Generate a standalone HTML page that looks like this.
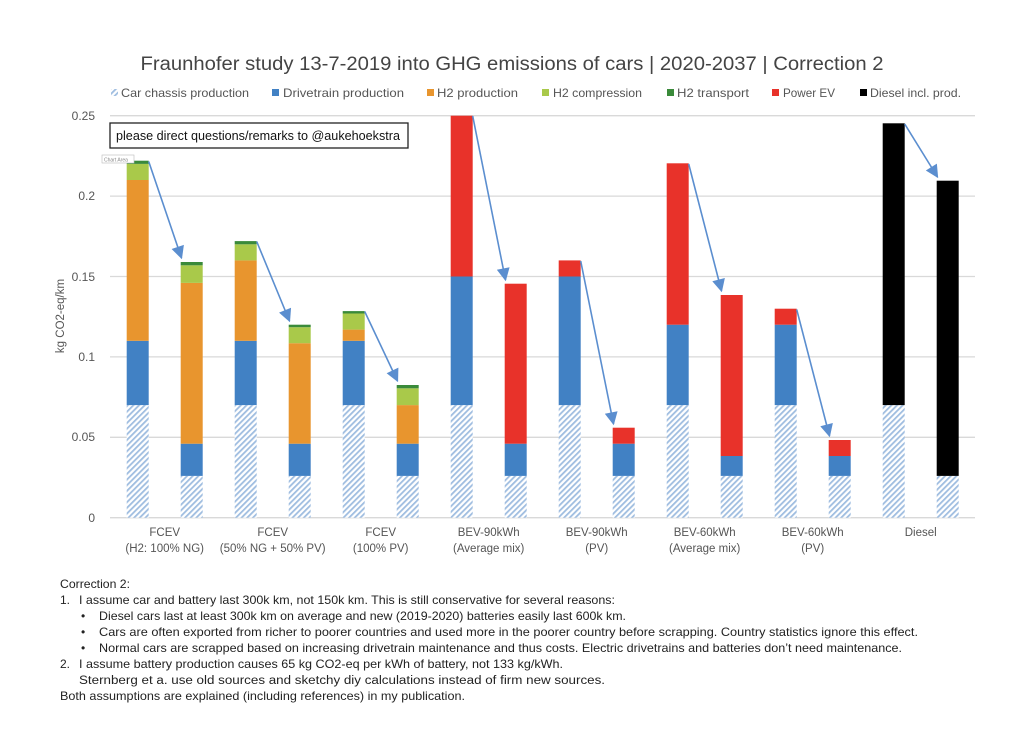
<!DOCTYPE html>
<html><head><meta charset="utf-8"><style>
html,body{margin:0;padding:0;background:#fff;}
svg{display:block;font-family:"Liberation Sans",sans-serif;}
</style></head><body>
<svg width="1024" height="742" viewBox="0 0 1024 742" xmlns="http://www.w3.org/2000/svg">
<defs>
<pattern id="h" patternUnits="userSpaceOnUse" width="4" height="4" patternTransform="rotate(45)">
<rect width="4" height="4" fill="#fff"/><rect width="1.8" height="4" fill="#9fbde0"/>
</pattern>
<marker id="a2" viewBox="0 0 10 10" refX="9" refY="5" markerWidth="16" markerHeight="13" markerUnits="userSpaceOnUse" orient="auto">
<path d="M0,0 L10,5 L0,10 z" fill="#5b8ecf"/>
</marker>
</defs>
<text x="512" y="70" font-size="19" fill="#444" text-anchor="middle" textLength="743" lengthAdjust="spacingAndGlyphs">Fraunhofer study 13-7-2019 into GHG emissions of cars | 2020-2037 | Correction 2</text>
<g font-size="12" fill="#555">
<rect x="111" y="89" width="7" height="7" fill="url(#h)"/><text x="121" y="97" textLength="128" lengthAdjust="spacingAndGlyphs">Car chassis production</text>
<rect x="272" y="89" width="7" height="7" fill="#4181c4"/><text x="283" y="97" textLength="121" lengthAdjust="spacingAndGlyphs">Drivetrain production</text>
<rect x="427" y="89" width="7" height="7" fill="#e8952e"/><text x="437" y="97" textLength="81" lengthAdjust="spacingAndGlyphs">H2 production</text>
<rect x="542" y="89" width="7" height="7" fill="#a9c94a"/><text x="553" y="97" textLength="89" lengthAdjust="spacingAndGlyphs">H2 compression</text>
<rect x="667" y="89" width="7" height="7" fill="#3a8a3a"/><text x="677" y="97" textLength="72" lengthAdjust="spacingAndGlyphs">H2 transport</text>
<rect x="772" y="89" width="7" height="7" fill="#e8322a"/><text x="783" y="97" textLength="52" lengthAdjust="spacingAndGlyphs">Power EV</text>
<rect x="860" y="89" width="7" height="7" fill="#000"/><text x="870" y="97" textLength="91" lengthAdjust="spacingAndGlyphs">Diesel incl. prod.</text>
</g>
<g stroke="#d9d9d9" stroke-width="1.3">
<line x1="110" y1="115.7" x2="975" y2="115.7"/><line x1="110" y1="196.1" x2="975" y2="196.1"/>
<line x1="110" y1="276.5" x2="975" y2="276.5"/><line x1="110" y1="356.9" x2="975" y2="356.9"/>
<line x1="110" y1="437.3" x2="975" y2="437.3"/><line x1="110" y1="517.7" x2="975" y2="517.7"/>
</g>
<g font-size="12" fill="#555" text-anchor="end">
<text x="95" y="120">0.25</text><text x="95" y="200">0.2</text><text x="95" y="281">0.15</text>
<text x="95" y="361">0.1</text><text x="95" y="441">0.05</text><text x="95" y="522">0</text>
</g>
<text transform="translate(64,316) rotate(-90)" font-size="11.5" fill="#555" text-anchor="middle">kg CO2-eq/km</text>
<g fill="url(#h)">
<rect x="126.7" y="405.1" width="22" height="112.6"/><rect x="234.7" y="405.1" width="22" height="112.6"/>
<rect x="342.7" y="405.1" width="22" height="112.6"/><rect x="450.7" y="405.1" width="22" height="112.6"/>
<rect x="558.7" y="405.1" width="22" height="112.6"/><rect x="666.7" y="405.1" width="22" height="112.6"/>
<rect x="774.7" y="405.1" width="22" height="112.6"/><rect x="882.7" y="405.1" width="22" height="112.6"/>
<rect x="180.7" y="475.9" width="22" height="41.8"/><rect x="288.7" y="475.9" width="22" height="41.8"/>
<rect x="396.7" y="475.9" width="22" height="41.8"/><rect x="504.7" y="475.9" width="22" height="41.8"/>
<rect x="612.7" y="475.9" width="22" height="41.8"/><rect x="720.7" y="475.9" width="22" height="41.8"/>
<rect x="828.7" y="475.9" width="22" height="41.8"/><rect x="936.7" y="475.9" width="22" height="41.8"/>
</g>
<g fill="#4181c4">
<rect x="126.7" y="340.8" width="22" height="64.3"/><rect x="234.7" y="340.8" width="22" height="64.3"/><rect x="342.7" y="340.8" width="22" height="64.3"/>
<rect x="180.7" y="443.7" width="22" height="32.2"/><rect x="288.7" y="443.7" width="22" height="32.2"/><rect x="396.7" y="443.7" width="22" height="32.2"/>
<rect x="450.7" y="276.5" width="22" height="128.6"/><rect x="504.7" y="443.7" width="22" height="32.2"/>
<rect x="558.7" y="276.5" width="22" height="128.6"/><rect x="612.7" y="443.7" width="22" height="32.2"/>
<rect x="666.7" y="324.7" width="22" height="80.4"/><rect x="720.7" y="456" width="22" height="19.9"/>
<rect x="774.7" y="324.7" width="22" height="80.4"/><rect x="828.7" y="456" width="22" height="19.9"/>
</g>
<g fill="#e8952e">
<rect x="126.7" y="180" width="22" height="160.8"/><rect x="180.7" y="282.9" width="22" height="160.8"/>
<rect x="234.7" y="260.4" width="22" height="80.4"/><rect x="288.7" y="343.2" width="22" height="100.5"/>
<rect x="342.7" y="329.6" width="22" height="11.2"/><rect x="396.7" y="405.1" width="22" height="38.6"/>
</g>
<g fill="#a9c94a">
<rect x="126.7" y="163.9" width="22" height="16.1"/><rect x="180.7" y="265.3" width="22" height="17.6"/>
<rect x="234.7" y="244.3" width="22" height="16.1"/><rect x="288.7" y="327.2" width="22" height="16"/>
<rect x="342.7" y="313.5" width="22" height="16.1"/><rect x="396.7" y="388.3" width="22" height="16.8"/>
</g>
<g fill="#3a8a3a">
<rect x="126.7" y="160.7" width="22" height="3.2"/><rect x="180.7" y="262" width="22" height="3.3"/>
<rect x="234.7" y="241.1" width="22" height="3.2"/><rect x="288.7" y="324.7" width="22" height="2.5"/>
<rect x="342.7" y="311.1" width="22" height="2.4"/><rect x="396.7" y="385" width="22" height="3.3"/>
</g>
<g fill="#e8322a">
<rect x="450.7" y="115.7" width="22" height="160.8"/><rect x="504.7" y="283.7" width="22" height="160"/>
<rect x="558.7" y="260.4" width="22" height="16.1"/><rect x="612.7" y="427.7" width="22" height="16"/>
<rect x="666.7" y="163.3" width="22" height="161.4"/><rect x="720.7" y="295" width="22" height="161"/>
<rect x="774.7" y="308.7" width="22" height="16"/><rect x="828.7" y="440" width="22" height="16"/>
</g>
<g fill="#000">
<rect x="882.7" y="123.3" width="22" height="281.8"/><rect x="936.7" y="180.7" width="22" height="295.2"/>
</g>
<g stroke="#5b8ecf" stroke-width="1.6" fill="none" marker-end="url(#a2)">
<line x1="148.7" y1="161.5" x2="181.5" y2="258"/>
<line x1="256.7" y1="241.5" x2="289.5" y2="321"/>
<line x1="364.7" y1="311.5" x2="397.5" y2="381"/>
<line x1="472.7" y1="116" x2="505.5" y2="280"/>
<line x1="580.7" y1="261" x2="613.5" y2="424"/>
<line x1="688.7" y1="164" x2="721.5" y2="291"/>
<line x1="796.7" y1="309.5" x2="829.5" y2="436"/>
<line x1="904.7" y1="124" x2="937.5" y2="177"/>
</g>
<rect x="110" y="123" width="298" height="25" fill="#fff" stroke="#222" stroke-width="1.3"/>
<text x="116" y="140" font-size="12.5" fill="#111" textLength="284" lengthAdjust="spacingAndGlyphs">please direct questions/remarks to @aukehoekstra</text>
<rect x="102" y="155" width="32" height="8" fill="#fff" stroke="#bbb" stroke-width="0.6"/>
<text x="104" y="161.5" font-size="5" fill="#888">Chart Area</text>
<g font-size="11.5" fill="#555" text-anchor="middle">
<text x="164.7" y="536">FCEV</text><text x="164.7" y="552">(H2: 100% NG)</text>
<text x="272.7" y="536">FCEV</text><text x="272.7" y="552">(50% NG + 50% PV)</text>
<text x="380.7" y="536">FCEV</text><text x="380.7" y="552">(100% PV)</text>
<text x="488.7" y="536">BEV-90kWh</text><text x="488.7" y="552">(Average mix)</text>
<text x="596.7" y="536">BEV-90kWh</text><text x="596.7" y="552">(PV)</text>
<text x="704.7" y="536">BEV-60kWh</text><text x="704.7" y="552">(Average mix)</text>
<text x="812.7" y="536">BEV-60kWh</text><text x="812.7" y="552">(PV)</text>
<text x="920.7" y="536">Diesel</text>
</g>
<g font-size="12" fill="#222">
<text x="60" y="588" textLength="70" lengthAdjust="spacingAndGlyphs">Correction 2:</text>
<text x="60" y="604">1.</text>
<text x="79" y="604" textLength="536" lengthAdjust="spacingAndGlyphs">I assume car and battery last 300k km, not 150k km. This is still conservative for several reasons:</text>
<text x="81" y="620">•</text><text x="99" y="620" textLength="527" lengthAdjust="spacingAndGlyphs">Diesel cars last at least 300k km on average and new (2019-2020) batteries easily last 600k km.</text>
<text x="81" y="636">•</text><text x="99" y="636" textLength="819" lengthAdjust="spacingAndGlyphs">Cars are often exported from richer to poorer countries and used more in the poorer country before scrapping. Country statistics ignore this effect.</text>
<text x="81" y="652">•</text><text x="99" y="652" textLength="803" lengthAdjust="spacingAndGlyphs">Normal cars are scrapped based on increasing drivetrain maintenance and thus costs. Electric drivetrains and batteries don’t need maintenance.</text>
<text x="60" y="668">2.</text>
<text x="79" y="668" textLength="484" lengthAdjust="spacingAndGlyphs">I assume battery production causes 65 kg CO2-eq per kWh of battery, not 133 kg/kWh.</text>
<text x="79" y="684" font-size="11.5" textLength="526" lengthAdjust="spacingAndGlyphs">Sternberg et a. use old sources and sketchy diy calculations instead of firm new sources.</text>
<text x="60" y="700" textLength="405" lengthAdjust="spacingAndGlyphs">Both assumptions are explained (including references) in my publication.</text>
</g>
</svg>
</body></html>
